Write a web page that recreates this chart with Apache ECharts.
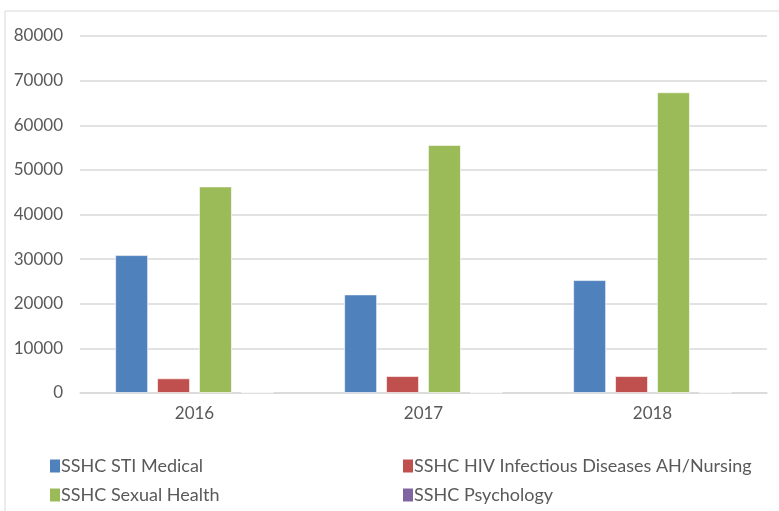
<!DOCTYPE html>
<html>
<head>
<meta charset="utf-8">
<script src="https://cdn.jsdelivr.net/npm/echarts@6/dist/echarts.min.js"></script>
<style>
    html, body { margin: 0; padding: 0; background: #fff; }
    #main { width: 779px; height: 511px; }
</style>
</head>
<body>
<div id="main"></div>
<script>
    // 数据
    var years = ['2016', '2017', '2018']
    var stiMedical = [30900, 22100, 25300]
    var hivNursing = [3300, 3800, 3800]
    var sexualHealth = [46300, 55600, 67400]
    var psychology = [150, 150, 150]
    var seriesNames = ['SSHC STI Medical', 'SSHC HIV Infectious Diseases AH/Nursing', 'SSHC Sexual Health', 'SSHC Psychology']

    var colors = ['#4f81bd', '#c0504d', '#9bbb59', '#8064a2']
    var font = 'Lato, "Open Sans", sans-serif'
    var textColor = '#595959'

    var myChart = echarts.init(document.getElementById('main'))

    function makeLegend(name, left, top) {
        return {
            data: [name],
            left: left,
            top: top,
            itemWidth: 10,
            itemHeight: 13,
            itemGap: 0,
            icon: 'rect',
            itemStyle: { borderWidth: 0 },
            textStyle: { color: textColor, fontSize: 18, fontFamily: font, padding: [0, 0, 0, -4] }
        }
    }

    function makeBar(name, data) {
        return {
            type: 'bar',
            name: name,
            data: data,
            barWidth: 33,
            barGap: '27%',
            itemStyle: { borderColor: 'rgba(255,255,255,0.6)', borderWidth: 1 }
        }
    }

    var option = {
        color: colors,
        animation: false,
        graphic: [{
            type: 'rect',
            shape: { x: 5, y: 11, width: 800, height: 520 },
            style: { fill: 'none', stroke: '#d9d9d9', lineWidth: 1 }
        }],
        grid: {
            left: 80,
            right: 12,
            top: 36,
            bottom: 118
        },
        legend: [
            makeLegend(seriesNames[0], 45, 452),
            makeLegend(seriesNames[1], 398, 452),
            makeLegend(seriesNames[2], 45, 481),
            makeLegend(seriesNames[3], 398, 481)
        ],
        xAxis: {
            type: 'category',
            data: years,
            axisLine: { lineStyle: { color: '#d9d9d9', width: 1.5 } },
            axisTick: { show: false },
            axisLabel: { color: textColor, fontSize: 17, fontFamily: font, margin: 12 }
        },
        yAxis: {
            type: 'value',
            min: 0,
            max: 80000,
            interval: 10000,
            axisLine: { show: false },
            axisTick: { show: false },
            splitLine: { lineStyle: { color: '#d9d9d9', width: 1.5 } },
            axisLabel: {
                color: textColor, fontSize: 17, fontFamily: font, margin: 17,
                formatter: function (value) { return String(value) }
            }
        },
        series: [
            makeBar(seriesNames[0], stiMedical),
            makeBar(seriesNames[1], hivNursing),
            makeBar(seriesNames[2], sexualHealth),
            makeBar(seriesNames[3], psychology)
        ]
    }
    myChart.setOption(option)
</script>
</body>
</html>
